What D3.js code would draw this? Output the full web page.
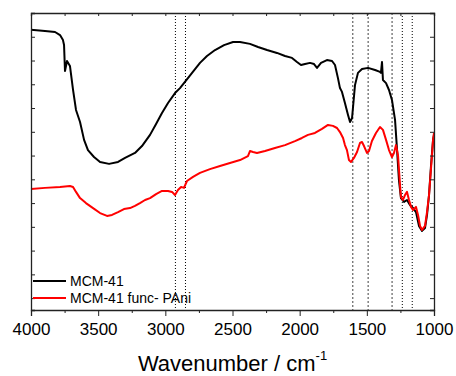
<!DOCTYPE html>
<html>
<head>
<meta charset="utf-8">
<script src="https://cdn.jsdelivr.net/npm/d3@7"></script>
<style>
  body { margin: 0; background: #fff; }
  svg text { font-family: "Liberation Sans", Arial, sans-serif; fill: #000; }
</style>
</head>
<body>
<svg id="chart" width="456" height="376"></svg>
<script>
// wavenumber (cm-1) and transmittance (a.u.)
const mcmWn = [4000, 3896, 3821, 3784, 3762, 3754, 3747, 3732, 3710, 3687, 3665, 3635, 3605, 3576, 3531, 3486, 3419, 3352, 3300, 3226, 3174, 3114, 3069, 3025, 2980, 2928, 2891, 2854, 2801, 2742, 2690, 2630, 2563, 2496, 2444, 2370, 2310, 2243, 2169, 2109, 2057, 2020, 1990, 1960, 1923, 1893, 1871, 1841, 1797, 1759, 1737, 1715, 1700, 1685, 1663, 1640, 1625, 1610, 1588, 1566, 1536, 1491, 1439, 1402, 1395, 1387, 1380, 1357, 1335, 1313, 1290, 1275, 1261, 1246, 1223, 1201, 1179, 1156, 1134, 1112, 1089, 1067, 1052, 1037, 1022, 1007, 1000];
const mcmT = [112.9, 112.4, 112.0, 110.7, 108.6, 106.5, 95.6, 99.8, 97.7, 87.6, 79.2, 74.1, 66.6, 62.3, 59.4, 57.3, 56.5, 57.3, 59.0, 61.1, 64.0, 68.7, 73.3, 77.9, 82.1, 86.3, 88.4, 91.0, 94.8, 99.0, 101.9, 104.4, 106.5, 107.8, 107.8, 107.0, 105.7, 104.4, 103.2, 101.9, 101.1, 99.4, 98.1, 98.5, 99.0, 98.5, 96.9, 99.0, 100.2, 99.8, 98.1, 92.6, 88.4, 86.8, 82.1, 77.1, 74.1, 75.8, 89.7, 94.8, 96.4, 96.9, 96.0, 95.2, 94.8, 99.4, 91.8, 90.5, 87.6, 83.4, 75.0, 62.3, 49.7, 42.1, 40.5, 41.3, 39.2, 37.9, 36.2, 30.4, 28.3, 29.5, 35.0, 43.4, 56.0, 66.6, 68.7];

const paniWn = [4000, 3896, 3784, 3710, 3687, 3665, 3635, 3591, 3538, 3486, 3434, 3397, 3352, 3308, 3263, 3226, 3189, 3151, 3114, 3069, 3025, 2980, 2950, 2928, 2906, 2883, 2861, 2839, 2794, 2742, 2668, 2593, 2519, 2444, 2385, 2370, 2347, 2318, 2258, 2184, 2109, 2035, 1983, 1938, 1886, 1834, 1789, 1752, 1722, 1700, 1677, 1663, 1648, 1633, 1618, 1596, 1573, 1551, 1536, 1521, 1499, 1484, 1462, 1432, 1402, 1380, 1357, 1335, 1313, 1298, 1283, 1268, 1253, 1246, 1231, 1216, 1201, 1186, 1171, 1156, 1134, 1119, 1104, 1089, 1067, 1052, 1037, 1022, 1007, 1000];
const paniT = [45.9, 46.4, 46.8, 47.2, 46.8, 44.7, 42.1, 40.0, 37.9, 35.8, 34.6, 35.0, 36.2, 37.5, 37.9, 38.8, 40.0, 41.3, 42.1, 43.8, 45.1, 45.1, 44.7, 43.4, 45.5, 46.8, 46.4, 49.3, 51.0, 52.7, 54.3, 55.6, 56.9, 58.1, 59.8, 61.9, 61.5, 61.1, 61.9, 63.2, 64.4, 66.1, 67.4, 68.7, 69.5, 71.2, 72.9, 72.5, 71.6, 69.9, 67.4, 64.4, 62.3, 58.1, 57.3, 59.0, 61.5, 65.3, 65.7, 64.0, 61.1, 61.9, 66.1, 69.5, 72.0, 70.8, 66.6, 62.3, 59.4, 61.1, 64.4, 60.2, 47.6, 42.6, 41.3, 43.4, 44.7, 41.3, 38.4, 37.1, 38.4, 35.0, 30.4, 28.7, 30.4, 36.2, 43.4, 54.8, 66.6, 69.5];

const seriesNames = ["MCM-41", "MCM-41 func- PAni"];
const seriesColors = ["#000000", "#ff0000"];

// marked bands (dotted guides)
const bandsGray = [1605, 1490, 1312];
const bandsBlack = [2925, 2850, 1236, 1162];

const xTicks = [4000, 3500, 3000, 2500, 2000, 1500, 1000];
const xMinor = [3750, 3250, 2750, 2250, 1750, 1250];
const yTicks = [0, 10, 20, 30, 40, 50, 60, 70, 80, 90, 100, 110];

const margin = { top: 13, right: 22, bottom: 66, left: 31 };
const width = 456 - margin.left - margin.right;
const height = 376 - margin.top - margin.bottom;

const svg = d3.select("#chart");
const g = svg.append("g").attr("transform", "translate(" + margin.left + "," + margin.top + ")");

const x = d3.scaleLinear().domain([4000, 1000]).range([0, width]);
const y = d3.scaleLinear().domain([-5, 120]).range([height, 0]);

// dotted guide lines
g.selectAll(".bandGray")
  .data(bandsGray)
  .enter().append("line")
  .attr("x1", d => x(d)).attr("x2", d => x(d))
  .attr("y1", 0).attr("y2", height)
  .attr("stroke", "#777")
  .attr("stroke-width", 1.4)
  .attr("stroke-dasharray", "2,2");

g.selectAll(".bandBlack")
  .data(bandsBlack)
  .enter().append("line")
  .attr("x1", d => x(d)).attr("x2", d => x(d))
  .attr("y1", 0).attr("y2", height)
  .attr("stroke", "#000")
  .attr("stroke-width", 1)
  .attr("stroke-dasharray", "1,2");

// spectra
const line = d3.line().x(d => x(d[0])).y(d => y(d[1]));
const curves = [d3.zip(mcmWn, mcmT), d3.zip(paniWn, paniT)];

g.selectAll(".spectrum")
  .data(curves)
  .enter().append("path")
  .attr("d", line)
  .attr("fill", "none")
  .attr("stroke", (d, i) => seriesColors[i])
  .attr("stroke-width", 2)
  .attr("stroke-linejoin", "round");

// axes
const bottom = g.append("g")
  .attr("transform", "translate(0," + height + ")")
  .call(d3.axisBottom(x).tickValues(xTicks).tickSize(6).tickPadding(7).tickFormat(d3.format("d")));
bottom.selectAll("text").style("font-size", "17px");

g.append("g")
  .attr("transform", "translate(0," + height + ")")
  .call(d3.axisBottom(x).tickValues(xMinor).tickSize(3).tickFormat(""))
  .call(a => a.select(".domain").remove());

g.append("g")
  .call(d3.axisBottom(x).tickValues(xTicks.concat(xMinor)).tickSize(3).tickFormat(""));

g.append("g")
  .call(d3.axisRight(y).tickValues(yTicks).tickSize(4).tickFormat(""));

g.append("g")
  .attr("transform", "translate(" + width + ",0)")
  .call(d3.axisLeft(y).tickValues(yTicks).tickSize(4).tickFormat(""));

g.selectAll(".domain").attr("stroke", "#222").attr("stroke-width", 1.3);
g.selectAll(".tick line").attr("stroke", "#222").attr("stroke-width", 1);

// axis title
const title = svg.append("text")
  .attr("x", margin.left + width / 2)
  .attr("y", 371)
  .attr("text-anchor", "middle")
  .style("font-size", "22px");
title.append("tspan").text("Wavenumber / cm");
title.append("tspan").attr("dy", -11).style("font-size", "13px").text("-1");

// legend
const legend = g.append("g")
  .selectAll("g")
  .data(seriesNames)
  .enter().append("g")
  .attr("transform", (d, i) => "translate(0," + (268 + i * 17) + ")");

legend.append("line")
  .attr("x1", 2).attr("x2", 35)
  .attr("stroke", (d, i) => seriesColors[i])
  .attr("stroke-width", 2);

legend.append("text")
  .attr("x", 39)
  .attr("y", 5)
  .style("font-size", "14px")
  .text(d => d);
</script>
</body>
</html>
